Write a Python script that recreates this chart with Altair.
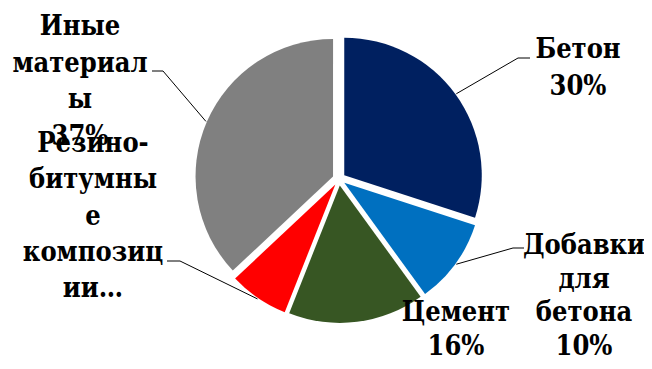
import altair as alt
import pandas as pd

# ---- data ----
categories = ["Бетон", "Добавки для бетона", "Цемент", "Резино-битумные композиции", "Иные материалы"]
shares = [30, 10, 16, 7, 37]
colors = ["#002060", "#0070C0", "#375623", "#FF0000", "#808080"]
# label text as wrapped in the reference; percent appended unless the label is truncated
label_words = [
    ["Бетон"],
    ["Добавки", "для", "бетона"],
    ["Цемент"],
    ["Резино-", "битумны", "е", "композиц", "ии…"],
    ["Иные", "материал", "ы"],
]
label_truncated = [False, False, False, True, False]

# ---- layout / style (pixels in chart space) ----
CX, CY = 331, 171
R = 137.5
EXPLODE = 6.5
LEADER_R = 138.5
FONT = "DejaVu Serif Condensed"
FONT_SIZE = 27
text_pos = {  # (center x, first baseline y, line height)
    "Бетон": (570, 50, 37),
    "Добавки для бетона": (576, 246, 33.5),
    "Цемент": (448, 313, 33.5),
    "Резино-битумные композиции": (85, 144, 36.3),
    "Иные материалы": (72, 27, 36.7),
}
leader = {  # (elbow x, elbow y, horizontal end x)
    "Бетон": (510, 50, 522),
    "Добавки для бетона": (505, 240, 516),
    "Резино-битумные композиции": (172, 253, 159),
    "Иные материалы": (155, 63, 144),
}

rows = []
for i, (c, v) in enumerate(zip(categories, shares)):
    lines = list(label_words[i])
    if not label_truncated[i]:
        lines.append(f"{v}%")
    tx, ty, lh = text_pos[c]
    ld = leader.get(c)
    rows.append({
        "cat": c, "value": v, "order": i, "label": "\n".join(lines),
        "tx": tx, "ty": ty,
        "ex": ld[0] if ld else None, "ey": ld[1] if ld else None, "hx": ld[2] if ld else None,
        "has_leader": ld is not None,
    })
df = pd.DataFrame(rows)

base = (
    alt.Chart(df)
    .transform_joinaggregate(total="sum(value)")
    .transform_window(cum="sum(value)", sort=[alt.SortField("order")], frame=[None, 0])
    .transform_calculate(
        a0="2*PI*(datum.cum - datum.value)/datum.total",
        a1="2*PI*datum.cum/datum.total",
    )
    .transform_calculate(mid="(datum.a0 + datum.a1)/2")
    .transform_calculate(
        ox=f"{CX} + {EXPLODE}*sin(datum.mid)",
        oy=f"{CY} - {EXPLODE}*cos(datum.mid)",
    )
    .transform_calculate(
        lx=f"datum.ox + {LEADER_R}*sin(datum.mid)",
        ly=f"datum.oy - {LEADER_R}*cos(datum.mid)",
    )
)

arcs = base.mark_arc(outerRadius=R).encode(
    theta=alt.Theta("a0:Q", scale=None, stack=False),
    theta2="a1:Q",
    x=alt.X("ox:Q", scale=None, axis=None),
    y=alt.Y("oy:Q", scale=None, axis=None),
    color=alt.Color("cat:N", scale=alt.Scale(domain=categories, range=colors), legend=None),
)

lead1 = base.transform_filter("datum.has_leader").mark_rule(color="black", strokeWidth=1).encode(
    x=alt.X("lx:Q", scale=None, axis=None),
    y=alt.Y("ly:Q", scale=None, axis=None),
    x2="ex:Q",
    y2="ey:Q",
)
lead2 = base.transform_filter("datum.has_leader").mark_rule(color="black", strokeWidth=1).encode(
    x=alt.X("ex:Q", scale=None, axis=None),
    y=alt.Y("ey:Q", scale=None, axis=None),
    x2="hx:Q",
)

label_layers = []
for c in categories:
    lh = text_pos[c][2]
    label_layers.append(
        base.transform_filter(alt.datum.cat == c).mark_text(
            font=FONT, fontSize=FONT_SIZE, fontWeight="bold",
            align="center", baseline="alphabetic", lineBreak="\n", lineHeight=lh, color="black",
        ).encode(
            x=alt.X("tx:Q", scale=None, axis=None),
            y=alt.Y("ty:Q", scale=None, axis=None),
            text="label:N",
        )
    )

chart = (
    alt.layer(arcs, lead1, lead2, *label_layers)
    .properties(width=636, height=353, autosize=alt.AutoSizeParams(type="none"), padding=0)
    .configure_view(stroke=None)
)

chart.save("out.html", embed_options={"renderer": "svg", "actions": False})
